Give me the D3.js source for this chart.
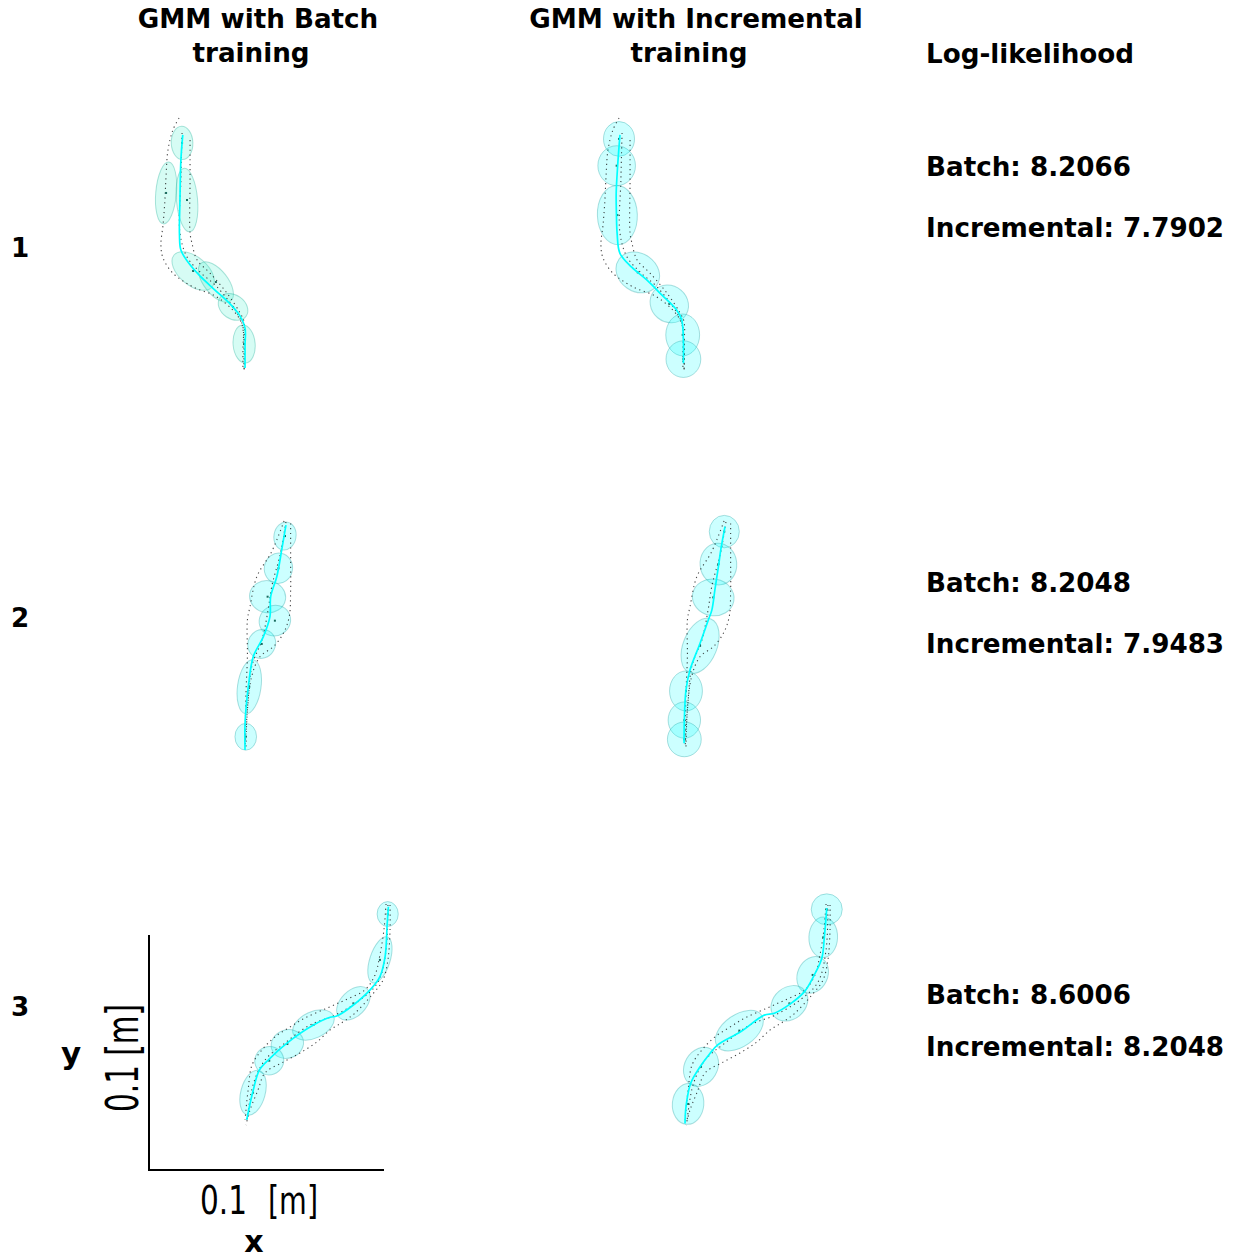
<!DOCTYPE html>
<html><head><meta charset="utf-8">
<script src="https://cdn.jsdelivr.net/npm/d3@7"></script>
<style>body{margin:0;background:#fff} svg{display:block}</style>
</head><body><div id="chart"></div>
<script>
// ---------- data (millimetres, y up) ----------
const columnTitles = [["GMM with Batch", "training"], ["GMM with Incremental", "training"]];
const sideTitle = "Log-likelihood";
const rowLabels = ["1", "2", "3"];
const logLikBatch = [8.2066, 8.2048, 8.6006];
const logLikIncremental = [7.7902, 7.9483, 8.2048];
const scaleBarLabel = "0.1";
const scaleBarUnit = "[m]";
const scaleBarLength = 100; // mm

// demonstrations (shared by both columns of a row)
const demos1 = [
  [[16.6,120.0],[14.0,114.9],[11.9,106.4],[11.1,95.7],[10.6,85.1],[9.8,74.5],[8.9,66.0],[9.8,60.4],[14.0,54.0],[22.6,48.1],[31.9,44.3],[39.1,38.7],[43.0,33.2],[44.3,25.5],[44.3,12.8]],
  [[21.3,110.6],[21.3,93.6],[21.3,71.1],[22.1,66.8],[24.3,59.6],[29.8,54.0],[37.0,45.5],[42.6,37.0],[44.3,33.2],[44.3,23.4],[44.3,11.9]],
  [[17.9,113.6],[17.4,93.6],[17.0,71.1],[20.0,60.9],[25.5,54.5],[32.8,48.1],[41.3,37.0],[43.8,31.1],[43.8,21.3],[43.8,12.8]]
];
const demos2 = [
  [[61.3,110.2],[56.0,97.1],[49.7,86.5],[46.8,73.7],[45.7,68.1],[45.7,52.5],[45.1,37.0],[44.7,15.7]],
  [[64.1,109.2],[64.1,93.6],[64.1,80.9],[63.5,69.5],[61.0,62.4],[56.7,56.7],[51.1,52.5],[47.5,44.0],[45.7,29.8],[45.1,14.2]],
  [[62.1,109.8],[59.6,95.7],[56.2,83.0],[54.5,72.3],[51.9,59.6],[47.7,48.9],[46.0,34.0],[44.7,13.6]]
];
const demos3 = [
  [[104.7,104.7],[103.8,93.6],[102.1,83.0],[100.0,74.5],[95.7,68.1],[87.2,63.8],[79.6,60.4],[70.2,56.2],[63.8,52.3],[57.4,48.1],[51.9,42.6],[47.7,36.2],[46.0,25.5],[44.7,12.8]],
  [[106.4,104.3],[106.4,93.6],[105.5,80.9],[103.4,72.3],[98.7,66.0],[91.5,58.3],[86.4,54.5],[80.9,51.1],[75.3,46.0],[68.1,41.3],[60.9,37.4],[53.2,32.8],[50.2,25.5],[46.8,17.0],[45.1,10.6]],
  [[105.5,104.3],[104.7,85.1],[101.3,71.5],[93.6,63.8],[83.0,57.4],[72.3,53.2],[61.7,45.5],[53.2,38.3],[48.1,27.7],[45.5,11.9]]
];

// GMM components: [cx, cy, semi-major, semi-minor, angle(deg, ccw)]
const ellBatch1 = [[17.9,109.4,7.1,4.6,92],[11.1,88.1,13.2,4.4,85],[20.0,85.1,13.6,4.5,95],[22.6,54.9,10.6,6.0,-40],[32.3,50.2,10.2,5.1,-52],[39.6,39.6,6.8,5.1,-35],[44.3,23.8,8.1,4.7,95]];
const ellIncr1  = [[16.6,111.1,7.4,6.6,90],[15.6,99.7,8.5,8.0,90],[15.9,78.7,12.6,8.5,92],[24.6,54.3,9.8,8.1,-35],[38.0,40.9,8.5,7.7,-40],[43.7,27.7,8.9,7.2,90],[44.0,17.4,7.8,7.4,90]];
const ellBatch2 = [[61.7,103.8,6.0,4.7,80],[58.9,90.1,6.5,6.0,80],[54.3,78.0,7.7,6.8,-10],[57.4,67.8,6.8,6.4,30],[51.8,57.9,6.3,5.8,60],[46.5,39.7,11.6,5.0,82],[45.0,18.4,5.7,4.6,90]];
const ellIncr2  = [[61.4,105.7,6.9,6.4,90],[58.9,91.9,8.9,7.8,95],[56.7,77.7,8.9,7.8,-10],[51.1,57.1,12.3,7.2,68],[45.1,37.9,8.5,7.0,90],[44.4,25.5,7.7,6.9,90],[44.4,17.3,7.4,7.2,90]];
const ellBatch3 = [[105.4,100.4,5.3,4.5,90],[102.1,80.9,10.2,4.3,72],[90.8,62.4,8.5,5.4,45],[73.8,53.2,9.4,5.6,25],[62.7,45.1,7.0,6.0,20],[55.0,38.0,6.2,6.0,20],[48.1,24.4,9.8,5.2,75]];
const ellIncr3  = [[105.0,102.4,6.6,6.6,90],[103.5,90.5,8.6,6.1,88],[99.0,74.5,8.1,6.4,65],[89.1,62.4,8.5,6.8,40],[67.8,50.8,11.5,6.8,35],[51.5,35.4,8.7,7.0,60],[46.0,19.6,8.7,6.7,85]];

// regression (GMR) trajectories
const regBatch1 = [[18.2,112.8],[17.4,102.1],[17.0,85.1],[16.8,70.2],[17.4,63.8],[20.4,58.7],[25.5,52.8],[31.9,46.8],[38.3,40.9],[42.6,35.7],[44.7,30.6],[44.7,23.4],[44.7,13.6]];
const regIncr1  = [[17.0,112.8],[16.0,99.3],[15.4,88.0],[15.5,79.4],[15.8,70.9],[17.0,62.4],[22.0,56.5],[28.4,51.1],[35.0,44.5],[41.1,38.3],[43.3,34.0],[44.0,25.0],[44.0,15.6]];
const regBatch2 = [[62.1,108.5],[60.3,97.9],[58.2,86.5],[55.6,78.0],[55.3,69.5],[52.5,61.0],[48.2,52.5],[46.1,39.7],[44.7,24.1],[44.7,12.8]];
const regIncr2  = [[61.7,107.8],[59.9,97.9],[58.9,90.8],[57.4,80.9],[56.1,72.3],[54.6,68.1],[51.1,58.2],[46.8,46.8],[45.1,38.3],[44.4,25.5],[44.3,15.6]];
const regBatch3 = [[105.7,103.5],[105.2,96.5],[104.3,82.3],[102.1,73.8],[98.6,68.9],[90.8,61.7],[83.7,57.0],[80.9,56.5],[73.8,53.2],[62.4,45.4],[55.3,39.0],[50.8,34.0],[48.2,25.5],[45.4,12.8]];
const regIncr3  = [[105.0,102.9],[104.0,90.8],[102.9,81.6],[99.7,74.5],[95.5,67.4],[89.8,62.4],[82.7,58.2],[78.4,57.4],[68.5,50.4],[58.6,44.7],[55.3,41.1],[51.1,35.4],[47.1,28.4],[45.1,18.4],[44.7,11.3]];

// ---------- layout ----------
const W = 1234, H = 1260;
const PX_PER_MM = 2.35;
const colX = [140, 580];
const rowY = [400, 780, 1150];
const FONT = "'DejaVu Sans', sans-serif";
const FS = 26.2;

const panels = [
  {r:0,c:0,demos:demos1,ell:ellBatch1,reg:regBatch1,fill:"#30f0c8",stroke:"#20b098"},
  {r:0,c:1,demos:demos1,ell:ellIncr1,reg:regIncr1,fill:"#00ffff",stroke:"#20a0a0"},
  {r:1,c:0,demos:demos2,ell:ellBatch2,reg:regBatch2,fill:"#00ffff",stroke:"#20a0a0"},
  {r:1,c:1,demos:demos2,ell:ellIncr2,reg:regIncr2,fill:"#00ffff",stroke:"#20a0a0"},
  {r:2,c:0,demos:demos3,ell:ellBatch3,reg:regBatch3,fill:"#00ffff",stroke:"#20a0a0"},
  {r:2,c:1,demos:demos3,ell:ellIncr3,reg:regIncr3,fill:"#00ffff",stroke:"#20a0a0"}
];

const svg = d3.select("#chart").append("svg").attr("width", W).attr("height", H)
  .style("background", "#fff");

panels.forEach(p => {
  const x = d3.scaleLinear().domain([0, 100]).range([colX[p.c], colX[p.c] + 100 * PX_PER_MM]);
  const y = d3.scaleLinear().domain([0, 100]).range([rowY[p.r], rowY[p.r] - 100 * PX_PER_MM]);
  const g = svg.append("g");
  const len = v => x(v) - x(0);

  g.selectAll("ellipse").data(p.ell).enter().append("ellipse")
    .attr("cx", d => x(d[0])).attr("cy", d => y(d[1]))
    .attr("rx", d => len(d[2])).attr("ry", d => len(d[3]))
    .attr("transform", d => `rotate(${-d[4]},${x(d[0])},${y(d[1])})`)
    .attr("fill", p.fill).attr("fill-opacity", 0.2)
    .attr("stroke", p.stroke).attr("stroke-opacity", 0.35).attr("stroke-width", 1);

  const line = d3.line().x(d => x(d[0])).y(d => y(d[1])).curve(d3.curveCatmullRom.alpha(0.5));

  g.selectAll("path.demo").data(p.demos).enter().append("path")
    .attr("class", "demo").attr("d", line)
    .attr("fill", "none").attr("stroke", "#222").attr("stroke-opacity", 0.85)
    .attr("stroke-width", 1.1).attr("stroke-dasharray", "1.2,3.6");

  g.selectAll("rect.mean").data(p.ell).enter().append("rect")
    .attr("class", "mean")
    .attr("x", d => x(d[0]) - 1).attr("y", d => y(d[1]) - 1)
    .attr("width", 2).attr("height", 2).attr("fill", "#1a6b5e");

  g.append("path").datum(p.reg).attr("d", line)
    .attr("fill", "none").attr("stroke", "#00ffff").attr("stroke-width", 1.7);
});

// ---------- texts ----------
const titlePos = [[258, 251], [696, 689]];
columnTitles.forEach((t, i) => {
  svg.append("text").attr("x", titlePos[i][0]).attr("y", 28).attr("text-anchor", "middle")
    .attr("font-family", FONT).attr("font-weight", "bold").attr("font-size", FS).text(t[0]);
  svg.append("text").attr("x", titlePos[i][1]).attr("y", 62).attr("text-anchor", "middle")
    .attr("font-family", FONT).attr("font-weight", "bold").attr("font-size", FS).text(t[1]);
});
svg.append("text").attr("x", 926).attr("y", 63)
  .attr("font-family", FONT).attr("font-weight", "bold").attr("font-size", FS).text(sideTitle);

const rowLabelY = [257, 627, 1016];
const batchY = [176, 592, 1004];
const incY = [237, 653, 1056];
rowLabels.forEach((lab, i) => {
  svg.append("text").attr("x", 11).attr("y", rowLabelY[i])
    .attr("font-family", FONT).attr("font-weight", "bold").attr("font-size", FS).text(lab);
  svg.append("text").attr("x", 926).attr("y", batchY[i])
    .attr("font-family", FONT).attr("font-weight", "bold").attr("font-size", FS)
    .text("Batch: " + logLikBatch[i].toFixed(4));
  svg.append("text").attr("x", 926).attr("y", incY[i])
    .attr("font-family", FONT).attr("font-weight", "bold").attr("font-size", FS)
    .text("Incremental: " + logLikIncremental[i].toFixed(4));
});

// ---------- scale bar ----------
const sbx = d3.scaleLinear().domain([0, scaleBarLength]).range([149, 149 + scaleBarLength * PX_PER_MM]);
const sby = d3.scaleLinear().domain([0, scaleBarLength]).range([1170, 1170 - scaleBarLength * PX_PER_MM]);
svg.append("path")
  .attr("d", `M${sbx(0)},${sby(scaleBarLength)}L${sbx(0)},${sby(0)}L${sbx(scaleBarLength)},${sby(0)}`)
  .attr("fill", "none").attr("stroke", "#000").attr("stroke-width", 2);

const SB = "'DejaVu Sans', sans-serif";
svg.append("text").attr("x", 200).attr("y", 1214).attr("font-family", SB)
  .attr("font-size", 39).attr("textLength", 47).attr("lengthAdjust", "spacingAndGlyphs")
  .text(scaleBarLabel);
svg.append("text").attr("x", 268).attr("y", 1214).attr("font-family", SB)
  .attr("font-size", 39).attr("textLength", 50).attr("lengthAdjust", "spacingAndGlyphs")
  .text(scaleBarUnit);
svg.append("text").attr("transform", "translate(138,1112) rotate(-90)")
  .attr("x", 0).attr("y", 0)
  .attr("font-family", SB).attr("font-size", 44)
  .attr("textLength", 108).attr("lengthAdjust", "spacingAndGlyphs")
  .text(scaleBarLabel + " " + scaleBarUnit);
svg.append("text").attr("x", 254).attr("y", 1252).attr("text-anchor", "middle")
  .attr("font-family", FONT).attr("font-weight", "bold").attr("font-size", 30).text("x");
svg.append("text").attr("x", 71).attr("y", 1064).attr("text-anchor", "middle")
  .attr("font-family", FONT).attr("font-weight", "bold").attr("font-size", 31).text("y");
</script></body></html>
